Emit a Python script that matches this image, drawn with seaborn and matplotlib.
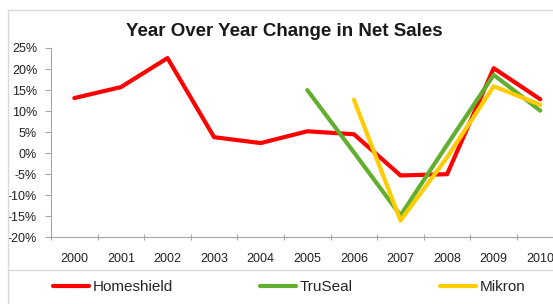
import numpy as np
import pandas as pd
import matplotlib
matplotlib.use("Agg")
import matplotlib.pyplot as plt
import seaborn as sns
from matplotlib.lines import Line2D
from matplotlib.patches import Rectangle
from matplotlib.ticker import FixedLocator, FuncFormatter

years = [2000, 2001, 2002, 2003, 2004, 2005, 2006, 2007, 2008, 2009, 2010]
homeshield = [13.1, 15.7, 22.6, 3.8, 2.4, 5.2, 4.5, -5.3, -5.0, 20.2, 12.8]
truseal_years = [2005, 2006, 2007, 2008, 2009, 2010]
truseal = [15.0, 0.2, -14.8, 2.0, 18.6, 10.1]
mikron_years = [2006, 2007, 2008, 2009, 2010]
mikron = [12.7, -16.0, -1.0, 15.9, 11.5]
series_names = ["Homeshield", "TruSeal", "Mikron"]
colors = ["#FF0000", "#62AE2F", "#FFCC00"]
y_ticks = [-20, -15, -10, -5, 0, 5, 10, 15, 20, 25]
title = "Year Over Year Change in Net Sales"

df = pd.concat([
    pd.DataFrame({"Year": years, "Change": homeshield, "Series": series_names[0]}),
    pd.DataFrame({"Year": truseal_years, "Change": truseal, "Series": series_names[1]}),
    pd.DataFrame({"Year": mikron_years, "Change": mikron, "Series": series_names[2]}),
], ignore_index=True)

sns.set_theme(style="white")
plt.rcParams["font.family"] = ["Liberation Sans", "DejaVu Sans"]

W, H = 553, 304
fig = plt.figure(figsize=(W / 100, H / 100), dpi=100)
fig.patch.set_facecolor("white")

# outer chart border and legend separator
fig.add_artist(Rectangle((7.5 / W, -0.1), 1.2, (H - 10) / H + 0.1, transform=fig.transFigure,
                         facecolor="none", edgecolor="#D9D9D9", lw=1.0))
fig.add_artist(Line2D([7.5 / W, 1.0], [(H - 269.5) / H] * 2, transform=fig.transFigure,
                      color="#D9D9D9", lw=1.0))

left, right, top, bottom = 51, 563.6, 48, 237.3
ax = fig.add_axes([left / W, (H - bottom) / H, (right - left) / W, (bottom - top) / H])

sns.lineplot(data=df, x="Year", y="Change", hue="Series", hue_order=series_names,
             palette=colors, linewidth=3.0, ax=ax, legend=False, sort=False)

ax.set_xlim(1999.5, 2010.5)
ax.set_ylim(-20, 25)
ax.set_xlabel("")
ax.set_ylabel("")

ax.xaxis.set_major_locator(FixedLocator(years))
ax.set_xticklabels([str(y) for y in years])
ax.xaxis.set_minor_locator(FixedLocator([y - 0.5 for y in years] + [2010.5]))
ax.tick_params(axis="x", which="major", length=0, pad=11, labelsize=9, labelcolor="#222222")
ax.tick_params(axis="x", which="minor", length=5, width=0.8, color="#A6A6A6", direction="inout", bottom=True)
ax.yaxis.set_major_locator(FixedLocator(y_ticks))
ax.yaxis.set_major_formatter(FuncFormatter(lambda v, p: f"{int(v)}%"))
ax.tick_params(axis="y", which="major", length=4, width=0.8, color="#A6A6A6", direction="out",
               left=True, pad=6, labelsize=9, labelcolor="#222222")

for s in ["top", "right"]:
    ax.spines[s].set_visible(False)
for s in ["left", "bottom"]:
    ax.spines[s].set_color("#A6A6A6")
    ax.spines[s].set_linewidth(0.8)

fig.text(284 / W, (H - 32) / H, title, ha="center", va="center",
         fontsize=13.5, fontweight="bold", color="#1a1a1a")

handles = [Line2D([], [], color=c, lw=3.0) for c in colors]
fig.legend(handles, series_names, loc="center left", bbox_to_anchor=(53 / W, (H - 287) / H),
           ncol=3, frameon=False, fontsize=11, handlelength=2.35, handletextpad=0.25,
           columnspacing=5.7, borderpad=0, borderaxespad=0)

fig.savefig("out.png", dpi=100, facecolor="white")
